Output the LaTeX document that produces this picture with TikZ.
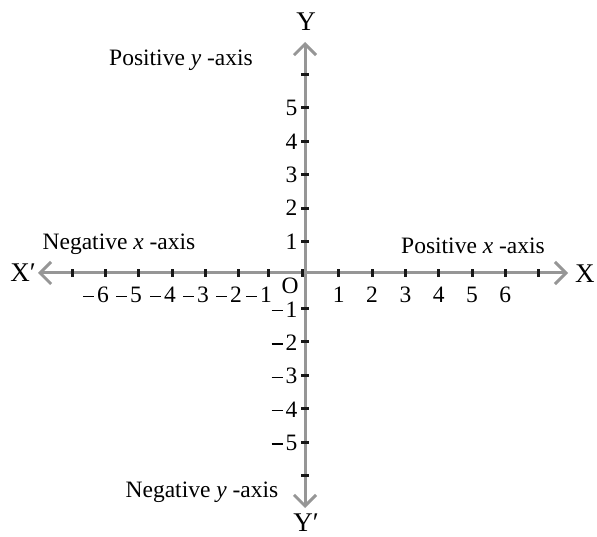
\documentclass[tikz,border=0pt]{standalone}
\usepackage{fontspec}
\setmainfont{Liberation Serif}
\usetikzlibrary{arrows.meta}
\definecolor{axisgray}{RGB}{150,150,150}
\definecolor{tickblack}{RGB}{25,25,25}
\newcommand{\negsign}{\rule[6pt]{11pt}{1.3pt}\kern3pt}
\begin{document}
\begin{tikzpicture}[x=1pt,y=-1pt,
  axisline/.style={draw=axisgray, line width=3pt,
    arrows={Straight Barb[length=11pt,width=22pt]-Straight Barb[length=11pt,width=22pt]}},
  tk/.style={draw=tickblack, line width=3pt},
  lbl/.style={inner sep=0pt, font=\fontsize{23.5}{26}\selectfont, text=black},
  big/.style={inner sep=0pt, font=\fontsize{27}{30}\selectfont, text=black}]
\useasboundingbox (0,0) rectangle (597,537);
% axes
\coordinate (xl) at (38,273);
\coordinate (xr) at (568,273);
\coordinate (yt) at (305,42);
\coordinate (yb) at (305,508);
\draw[axisline] (xl) -- (xr);
\draw[axisline] (yb) -- (yt);
% positive x ticks
\foreach \k in {1,...,7} {
  \coordinate (xtp\k) at ({305.5+33.3*\k},273);
  \draw[tk] ([yshift=-4pt]xtp\k) -- ([yshift=4pt]xtp\k);
}
% negative x ticks (as drawn in the reference)
\foreach \n/\x in {0/302,1/268,2/238,3/205,4/172,5/138,6/105,7/72} {
  \coordinate (xtn\n) at (\x,273);
  \draw[tk] ([yshift=-4pt]xtn\n) -- ([yshift=4pt]xtn\n);
}
% y ticks
\foreach \k in {1,...,6} {
  \coordinate (ytp\k) at (305,{275-33.4*\k});
  \draw[tk] ([xshift=-4pt]ytp\k) -- ([xshift=4pt]ytp\k);
  \coordinate (ytn\k) at (305,{275+33.4*\k});
  \draw[tk] ([xshift=-4pt]ytn\k) -- ([xshift=4pt]ytn\k);
}
% x labels
\foreach \k in {1,...,6} {
  \node[lbl, anchor=base] (xp\k) at ({305.5+33.3*\k},303) {\k};
}
\foreach \k/\x in {1/268,2/238,3/205,4/172,5/138,6/105} {
  \node[lbl, anchor=base east] (xn\k) at ({\x+4},303) {\negsign\k};
}
% y labels
\foreach \k in {1,...,5} {
  \node[lbl, anchor=east] (yp\k) at (297.5,{275-33.4*\k}) {\k};
  \node[lbl, anchor=east] (yn\k) at (297.5,{276+33.4*\k}) {\negsign\k};
}
\node[lbl] (o) at (290,286) {O};
% axis names
\node[big] (ny) at (306,22) {Y};
\node[big] (nyb) at (306,523) {Y′};
\node[big, anchor=east] (nxl) at (36,273) {X′};
\node[big, anchor=west] (nxr) at (575,274) {X};
% region labels
\node[lbl] (py) at (181,60) {Positive \textit{y} -axis};
\node[lbl] (nx) at (119,244) {Negative \textit{x} -axis};
\node[lbl] (px) at (473,246) {Positive \textit{x} -axis};
\node[lbl] (ny2) at (202,492) {Negative \textit{y} -axis};
\end{tikzpicture}
\end{document}
